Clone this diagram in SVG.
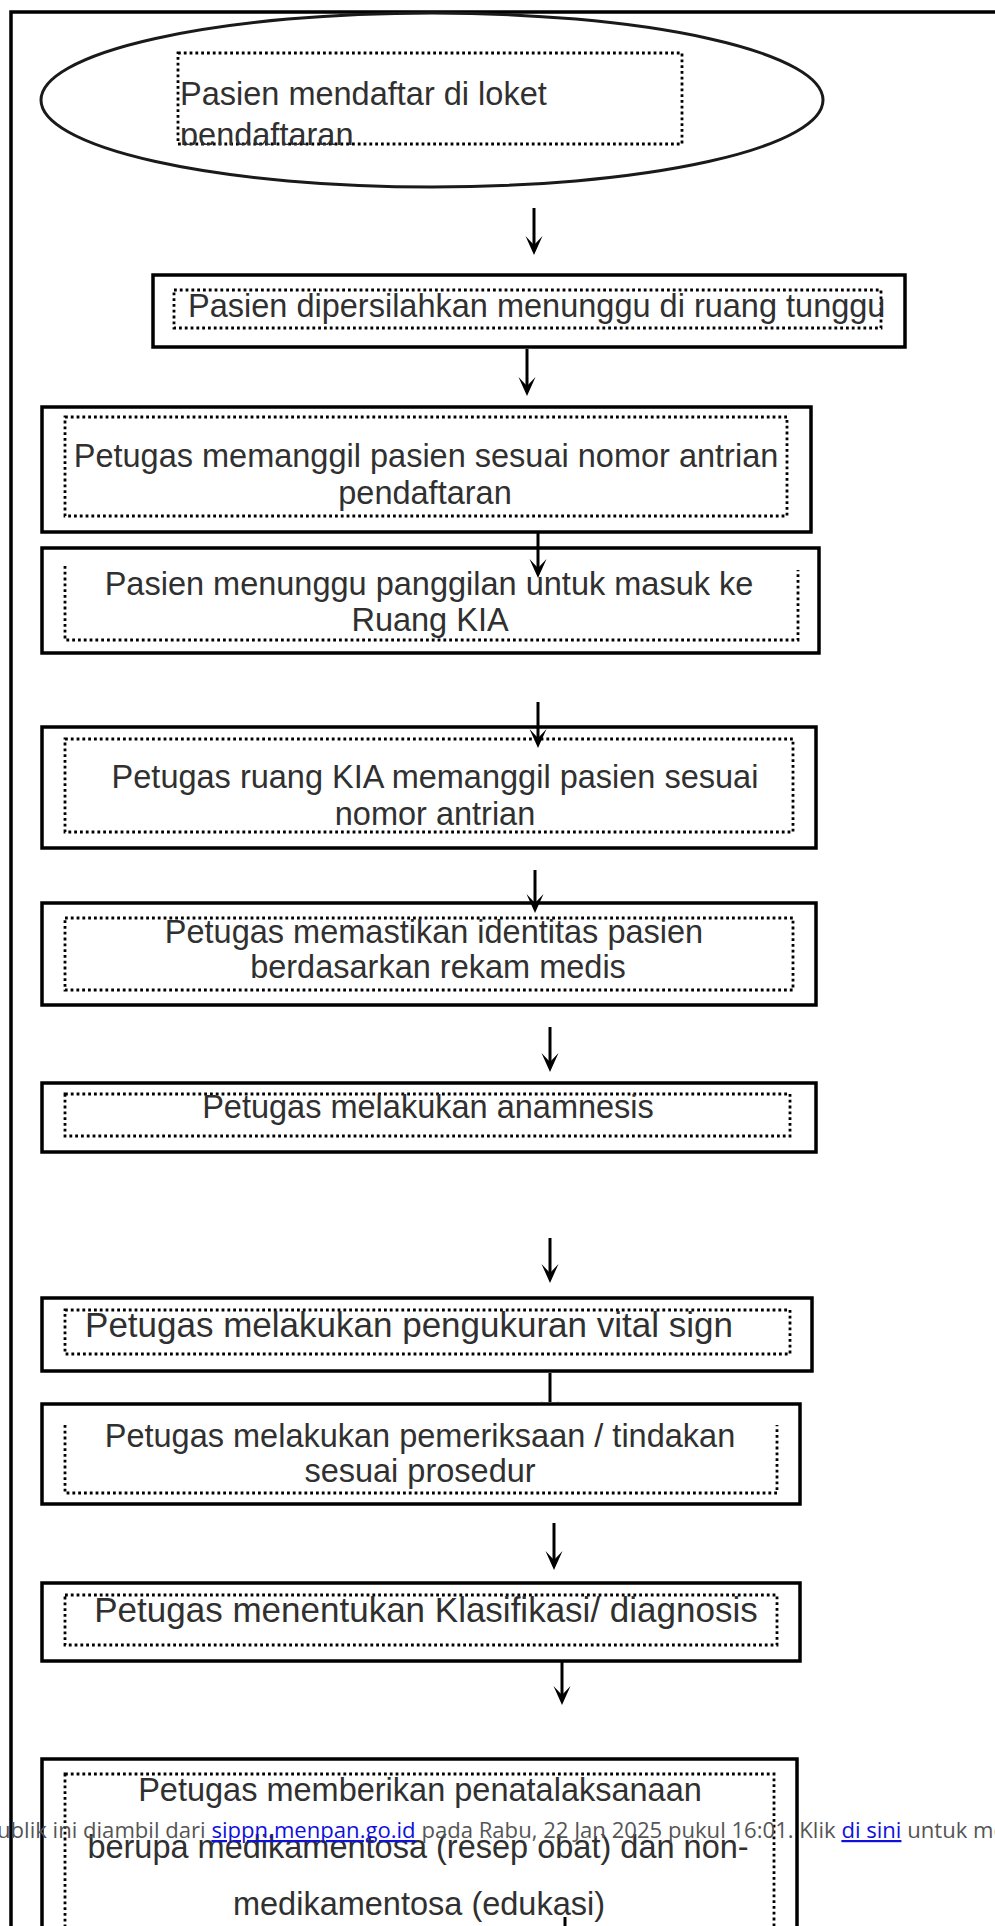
<svg xmlns="http://www.w3.org/2000/svg" width="995" height="1926" viewBox="0 0 995 1926">
<style>
.box{fill:#fff;stroke:#000;stroke-width:3.5}
.dot{fill:none;stroke:#000;stroke-width:2.8;stroke-dasharray:2.8 3}
.t{font-family:"Liberation Sans",Arial,sans-serif;fill:#303030;font-size:32.5px;text-anchor:middle}
.tl{font-size:35px}
.ts{text-anchor:start}
.ar{stroke:#000;stroke-width:3;fill:none;marker-end:url(#ah)}
.ft{font-family:"Open Sans","Noto Sans",sans-serif;font-size:22.1px;fill:#555}
.lk{fill:#1010dd;text-decoration:underline}
</style>
<defs>
<marker id="ah" markerUnits="userSpaceOnUse" viewBox="-20 -10 21 20" markerWidth="21" markerHeight="20" refX="-8" refY="0" orient="auto">
<path d="M0,0 L-19,-8.5 L-10,0 L-19,8.5 Z" fill="#000"/>
</marker>
<clipPath id="c0"><rect x="170" y="50" width="520" height="95"/></clipPath>
<clipPath id="c8"><rect x="500" y="1360" width="100" height="42"/></clipPath>
</defs>
<rect width="995" height="1926" fill="#fff"/>
<g id="frame">
<path d="M11,1930 V12 H1000" fill="none" stroke="#000" stroke-width="3.5"/>
</g>
<g id="n1">
<ellipse cx="432" cy="100" rx="391" ry="87" fill="#fff" stroke="#1a1a1a" stroke-width="3"/>
<rect class="dot" x="178" y="53" width="504" height="91"/>
<g clip-path="url(#c0)">
<text class="t ts" x="180" y="105" font-size="32">Pasien mendaftar di loket</text>
<text class="t ts" x="180" y="146" font-size="32">pendaftaran</text>
</g>
</g>
<g id="n2">
<rect class="box" x="153" y="275" width="752" height="72"/>
<rect class="dot" x="174" y="290" width="707" height="38"/>
<text class="t ts" x="188" y="317" font-size="32">Pasien dipersilahkan menunggu di ruang tunggu</text>
</g>
<g id="n3">
<rect class="box" x="42" y="407" width="769" height="125"/>
<rect class="dot" x="65" y="417" width="722" height="99"/>
<text class="t" x="426" y="467" font-size="33">Petugas memanggil pasien sesuai nomor antrian</text>
<text class="t" x="425" y="504" font-size="33">pendaftaran</text>
</g>
<g id="n4">
<rect class="box" x="42" y="548" width="777" height="105"/>
<path class="dot" d="M65,566 V640 H798 V570"/>
<text class="t" x="429" y="595" font-size="32">Pasien menunggu panggilan untuk masuk ke</text>
<text class="t" x="430" y="631" font-size="32">Ruang KIA</text>
</g>
<g id="n5">
<rect class="box" x="42" y="727" width="774" height="121"/>
<rect class="dot" x="65" y="739" width="728" height="93"/>
<text class="t" x="435" y="788" font-size="32">Petugas ruang KIA memanggil pasien sesuai</text>
<text class="t" x="435" y="825" font-size="32">nomor antrian</text>
</g>
<g id="n6">
<rect class="box" x="42" y="903" width="774" height="102"/>
<rect class="dot" x="65" y="918" width="728" height="72"/>
<text class="t" x="434" y="943">Petugas memastikan identitas pasien</text>
<text class="t" x="438" y="978">berdasarkan rekam medis</text>
</g>
<g id="n7">
<rect class="box" x="42" y="1083" width="774" height="69"/>
<rect class="dot" x="65" y="1094" width="725" height="42"/>
<text class="t" x="428" y="1118">Petugas melakukan anamnesis</text>
</g>
<g id="n8">
<rect class="box" x="42" y="1298" width="770" height="73"/>
<rect class="dot" x="65" y="1310" width="725" height="44"/>
<text class="t tl" x="409" y="1337">Petugas melakukan pengukuran vital sign</text>
</g>
<g id="n9">
<rect class="box" x="42" y="1404" width="758" height="100"/>
<path class="dot" d="M65,1425 V1493 H777 V1425"/>
<text class="t" x="420" y="1447">Petugas melakukan pemeriksaan / tindakan</text>
<text class="t" x="420" y="1482">sesuai prosedur</text>
</g>
<g id="n10">
<rect class="box" x="42" y="1583" width="758" height="78"/>
<rect class="dot" x="65" y="1595" width="712" height="50"/>
<text class="t tl" x="426" y="1622">Petugas menentukan Klasifikasi/ diagnosis</text>
</g>
<g id="n11">
<rect class="box" x="42" y="1759" width="755" height="200"/>
<rect class="dot" x="65" y="1774" width="709" height="200"/>
<text class="t" x="420" y="1801" font-size="34.5">Petugas memberikan penatalaksanaan</text>
<text class="t" x="418" y="1858" font-size="34">berupa medikamentosa (resep obat) dan non-</text>
<text class="t" x="419" y="1915" font-size="35">medikamentosa (edukasi)</text>
</g>
<g id="connectors">
<line class="ar" x1="534" y1="208" x2="534" y2="247"/>
<line class="ar" x1="527" y1="349" x2="527" y2="388"/>
<line class="ar" x1="538" y1="533" x2="538" y2="570"/>
<line class="ar" x1="538" y1="702" x2="538" y2="740"/>
<line class="ar" x1="535" y1="870" x2="535" y2="905"/>
<line class="ar" x1="550" y1="1027" x2="550" y2="1064"/>
<line class="ar" x1="550" y1="1238" x2="550" y2="1275"/>
<line class="ar" x1="550" y1="1373" x2="550" y2="1412" clip-path="url(#c8)"/>
<line class="ar" x1="554" y1="1523" x2="554" y2="1562"/>
<line class="ar" x1="562" y1="1662" x2="562" y2="1697"/>
<line x1="565" y1="1917" x2="565" y2="1930" stroke="#000" stroke-width="3"/>
</g>
<g id="footer">
<text class="ft" x="-3" y="1838">ublik ini diambil dari <tspan class="lk">sippn.menpan.go.id</tspan> pada Rabu, 22 Jan 2025 pukul 16:01. Klik <tspan class="lk">di sini</tspan> untuk me</text>
</g>
</svg>
